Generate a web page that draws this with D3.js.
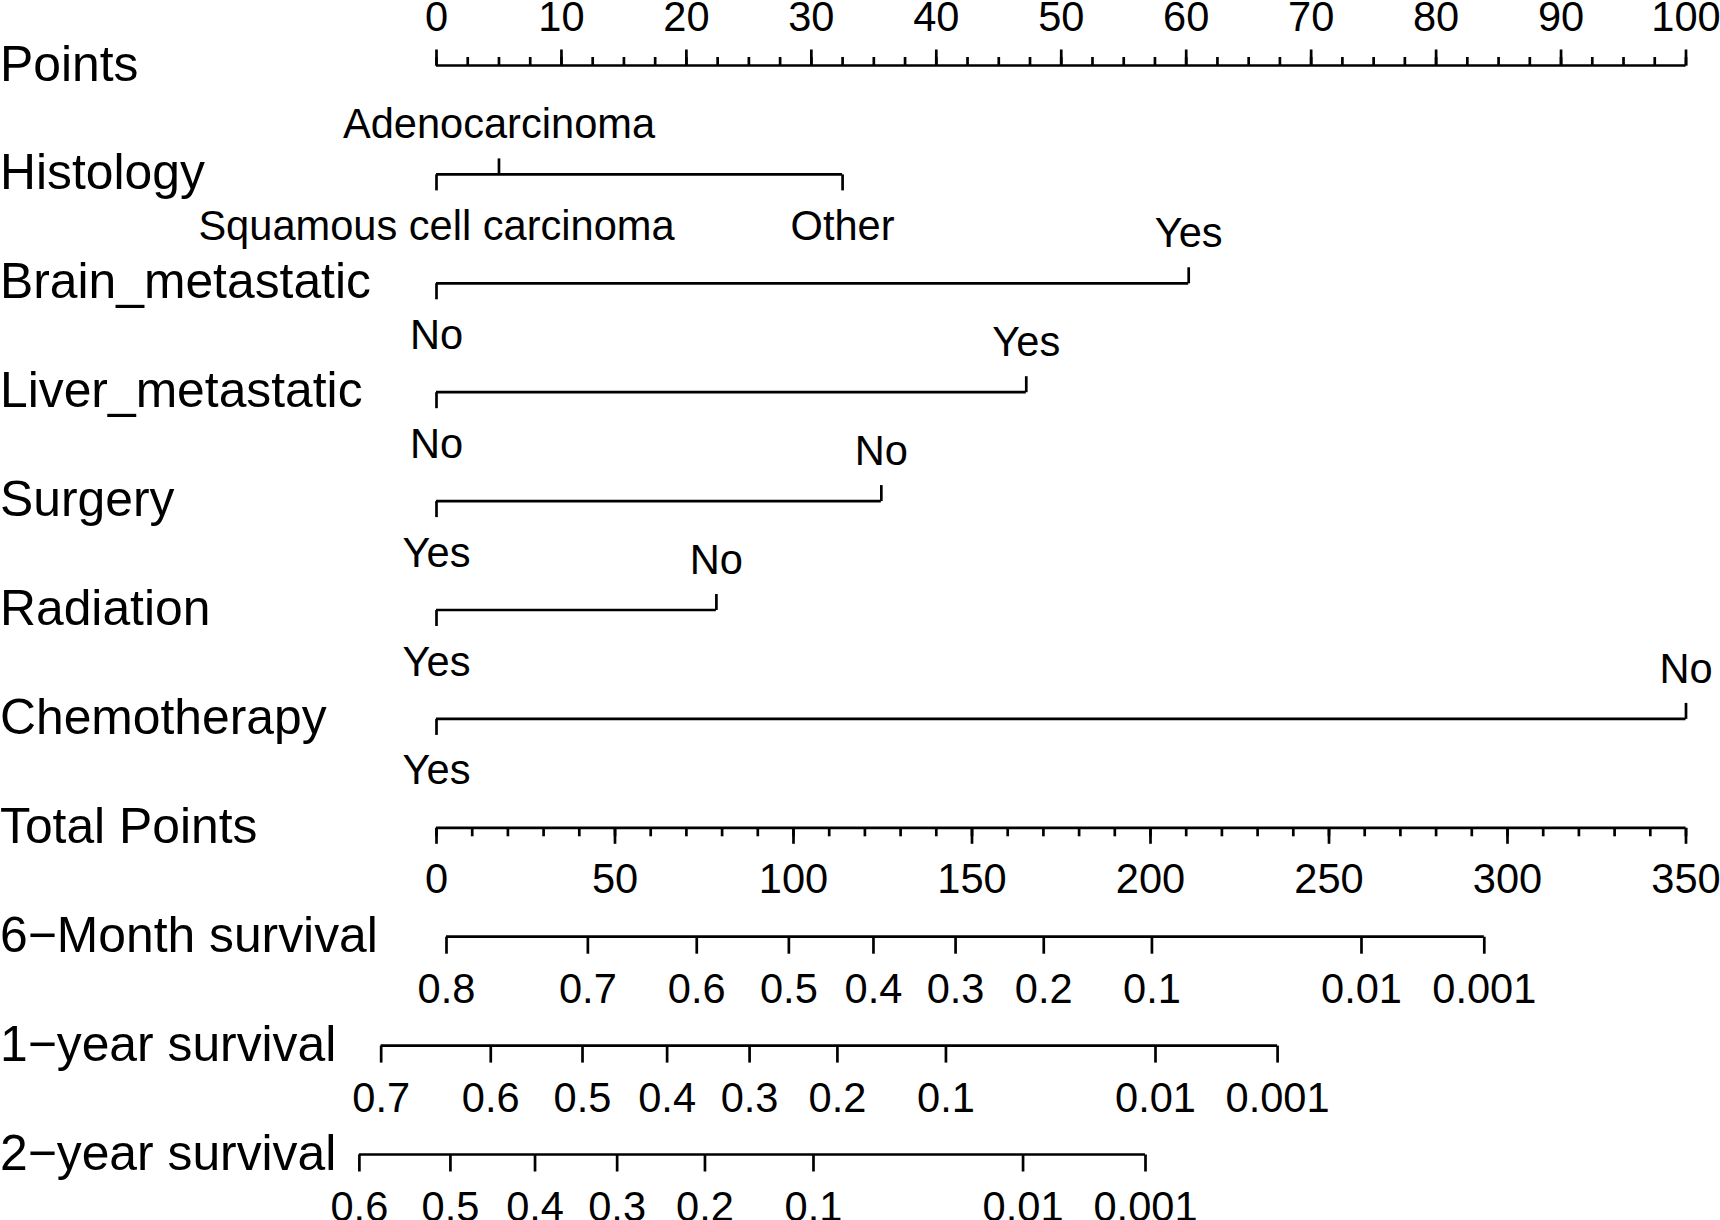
<!DOCTYPE html>
<html>
<head>
  <meta charset="utf-8">
  <style>
    body { margin: 0; background: #ffffff; }
    svg { display: block; background: #ffffff; }
    text { font-family: "Liberation Sans", Arial, sans-serif; fill: #000; }
    .axis path, .axis line, .bar { stroke: #000; stroke-width: 2.7; fill: none; }
  </style>
</head>
<body>
  <div id="nomogram"></div>

  <script src="https://d3js.org/d3.v7.min.js"></script>
  <script>

    // row names, top to bottom
    var rowLabels = ["Points", "Histology", "Brain_metastatic", "Liver_metastatic",
      "Surgery", "Radiation", "Chemotherapy", "Total Points",
      "6\u2212Month survival", "1\u2212year survival", "2\u2212year survival"];

    // points scale
    var pointsMajor = d3.range(0, 101, 10);
    var pointsMinor = d3.range(0, 100.1, 2.5);

    // predictors: level names and their points
    var histologyLevels = ["Squamous cell carcinoma", "Adenocarcinoma", "Other"];
    var histologyPoints = [0, 5, 32.5];
    var brainLevels = ["No", "Yes"];
    var brainPoints = [0, 60.2];
    var liverLevels = ["No", "Yes"];
    var liverPoints = [0, 47.2];
    var surgeryLevels = ["Yes", "No"];
    var surgeryPoints = [0, 35.6];
    var radiationLevels = ["Yes", "No"];
    var radiationPoints = [0, 22.4];
    var chemoLevels = ["Yes", "No"];
    var chemoPoints = [0, 100];

    // total points scale
    var totalMajor = d3.range(0, 351, 50);
    var totalMinor = d3.range(0, 351, 10);

    // survival probabilities and where they sit on the total points scale
    var sixMonthProbs = [0.8, 0.7, 0.6, 0.5, 0.4, 0.3, 0.2, 0.1, 0.01, 0.001];
    var sixMonthTotals = [2.8, 42.4, 72.9, 98.7, 122.4, 145.4, 170.1, 200.4, 259.1, 293.5];
    var oneYearProbs = [0.7, 0.6, 0.5, 0.4, 0.3, 0.2, 0.1, 0.01, 0.001];
    var oneYearTotals = [-15.5, 15.2, 40.9, 64.6, 87.7, 112.3, 142.7, 201.4, 235.6];
    var twoYearProbs = [0.6, 0.5, 0.4, 0.3, 0.2, 0.1, 0.01, 0.001];
    var twoYearTotals = [-21.6, 3.9, 27.6, 50.6, 75.2, 105.6, 164.3, 198.6];

    var width = 1720, height = 1220;
    var labelSize = 49.8, tickFont = 41.6;
    var majorLen = 16, minorLen = 8.5, pad = 20;

    var svg = d3.select("#nomogram")
        .append("svg")
        .attr("width", width)
        .attr("height", height);

    var x = d3.scaleLinear().domain([0, 100]).range([436, 1685.5]);
    var xTotal = d3.scaleLinear().domain([0, 350]).range([436, 1685.5]);
    var y = d3.scaleLinear().domain([0, rowLabels.length - 1]).range([65.5, 1154.5]);

    // row labels on the left
    svg.append("g")
        .selectAll("text")
        .data(rowLabels)
        .enter().append("text")
        .attr("x", 0)
        .attr("y", (d, i) => y(i) + 15)
        .style("font-size", labelSize + "px")
        .text(d => d);

    // a scale row: horizontal bar plus labelled ticks
    function addBar(row, scale, lo, hi) {
      svg.append("line")
          .attr("class", "bar")
          .attr("x1", scale(lo)).attr("x2", scale(hi))
          .attr("y1", y(row)).attr("y2", y(row));
    }

    function addTicks(row, scale, values, labels, side, len, padding) {
      var axis = (side === "top" ? d3.axisTop(scale) : d3.axisBottom(scale))
          .tickValues(values)
          .tickSize(len)
          .tickSizeOuter(0)
          .tickPadding(padding === undefined ? pad : padding)
          .tickFormat(labels ? (d, i) => labels[i] : "");
      var g = svg.append("g")
          .attr("class", "axis")
          .attr("transform", "translate(0," + y(row) + ")")
          .call(axis);
      g.select(".domain").remove();
      g.selectAll("text")
          .style("font-size", tickFont + "px")
          .attr("font-family", null);
      return g;
    }

    // Points
    addBar(0, x, 0, 100);
    addTicks(0, x, pointsMinor, null, "top", minorLen);
    addTicks(0, x, pointsMajor, pointsMajor.map(String), "top", majorLen, 18.5);

    // categorical predictors: labels alternate below / above along the bar
    var predictors = [
      [histologyLevels, histologyPoints],
      [brainLevels, brainPoints],
      [liverLevels, liverPoints],
      [surgeryLevels, surgeryPoints],
      [radiationLevels, radiationPoints],
      [chemoLevels, chemoPoints]
    ];

    predictors.forEach(function (p, k) {
      var row = k + 1;
      var order = d3.range(p[1].length).sort((a, b) => p[1][a] - p[1][b]);
      var below = order.filter((d, i) => i % 2 === 0);
      var above = order.filter((d, i) => i % 2 === 1);
      addBar(row, x, d3.min(p[1]), d3.max(p[1]));
      addTicks(row, x, below.map(i => p[1][i]), below.map(i => p[0][i]), "bottom", majorLen);
      addTicks(row, x, above.map(i => p[1][i]), above.map(i => p[0][i]), "top", majorLen);
    });

    // Total Points
    addBar(7, xTotal, 0, 350);
    addTicks(7, xTotal, totalMinor, null, "bottom", minorLen);
    addTicks(7, xTotal, totalMajor, totalMajor.map(String), "bottom", majorLen);

    // survival rows
    [[sixMonthTotals, sixMonthProbs], [oneYearTotals, oneYearProbs], [twoYearTotals, twoYearProbs]]
        .forEach(function (s, k) {
          var row = 8 + k;
          addBar(row, xTotal, d3.min(s[0]), d3.max(s[0]));
          addTicks(row, xTotal, s[0], s[1].map(String), "bottom", 17);
        });

  </script>
</body>
</html>
